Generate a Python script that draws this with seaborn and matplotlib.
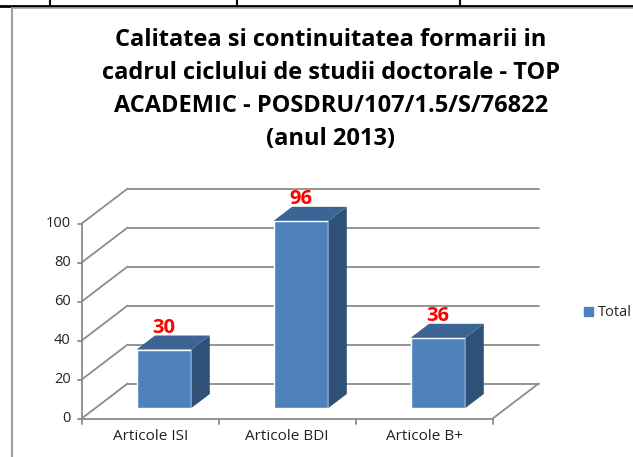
import matplotlib
matplotlib.use("Agg")
import matplotlib.pyplot as plt
import seaborn as sns
import pandas as pd
from matplotlib.patches import Polygon
from matplotlib.lines import Line2D

# data
categories = ["Articole ISI", "Articole BDI", "Articole B+"]
values = [30, 96, 36]
yticks = [0, 20, 40, 60, 80, 100]
series_name = "Total"
title_lines = ["Calitatea si continuitatea formarii in",
               "cadrul ciclului de studii doctorale - TOP",
               "ACADEMIC - POSDRU/107/1.5/S/76822",
               "(anul 2013)"]

df = pd.DataFrame({"cat": categories, "val": values})

sns.set_theme(style="white")
plt.rcParams["font.family"] = ["Open Sans", "DejaVu Sans"]

W, H = 633, 457
fig = plt.figure(figsize=(W / 100, H / 100), dpi=100)

# pixel box of the plot axes
px0, px1, py0, py1 = 40, 560, 175, 430
ux, uy = 137.0, 1.95          # px per category / per value unit
ox, oy = 164.0, 408.0         # pixel of data (0, 0)
ax = fig.add_axes([px0 / W, (H - py1) / H, (px1 - px0) / W, (py1 - py0) / H])

# depth vector of the 3D box (data units)
DX, DY = 46 / ux, 35 / uy
f_front, f_back = 0.3, 0.7
grid_c = "#8c8c8c"
lw = 1.3

x_left, x_right = -0.5, len(categories) - 0.5
fx, fy = -f_front * DX, -f_front * DY      # front plane offset
bx, by = f_back * DX, f_back * DY          # back plane offset

# back wall gridlines + left wall diagonals
for v in yticks:
    ax.plot([x_left + bx, x_right + bx], [v + by, v + by], color=grid_c, lw=lw, zorder=1)
    ax.plot([x_left + fx, x_left + bx], [v + fy, v + by], color=grid_c, lw=lw, zorder=1)
    ax.plot([x_left + fx - 0.03, x_left + fx], [v + fy, v + fy], color=grid_c, lw=lw, zorder=1)
    ax.text(x_left + fx - 0.08, v + fy, str(v), ha="right", va="center",
            fontsize=10.5, color="#222222")

# front axis and floor
ax.plot([x_left + fx, x_left + fx], [fy, yticks[-1] + fy], color=grid_c, lw=lw, zorder=1)
ax.plot([x_left + fx, x_right + fx], [fy, fy], color=grid_c, lw=lw, zorder=1)
ax.plot([x_right + fx, x_right + bx], [fy, by], color=grid_c, lw=lw, zorder=1)
for i in range(len(categories) + 1):
    xt = x_left + i + fx
    ax.plot([xt, xt], [fy, fy - 3], color=grid_c, lw=lw, zorder=1)
for i, c in enumerate(categories):
    ax.text(i + fx, fy - 5.5, c, ha="center", va="top", fontsize=11, color="#222222")

# bars (front faces)
front_c, top_c, side_c = "#4F81BD", "#3C6494", "#2F5077"
sns.barplot(data=df, x="cat", y="val", width=0.4, color=front_c, saturation=1,
            ax=ax, zorder=3)
ax.set_xlim((px0 - ox) / ux, (px1 - ox) / ux)
ax.set_ylim((oy - py1) / uy, (oy - py0) / uy)
ax.axis("off")

ddx, ddy = (f_back - f_front) * DX, (f_back - f_front) * DY
for p, v in zip(ax.patches, values):
    x0 = p.get_x()
    x1 = x0 + p.get_width()
    h = p.get_height()
    ax.add_patch(Polygon([(x1, 0), (x1 + ddx, ddy), (x1 + ddx, h + ddy), (x1, h)],
                         closed=True, facecolor=side_c, edgecolor="none", zorder=3))
    ax.add_patch(Polygon([(x0, h), (x1, h), (x1 + ddx, h + ddy), (x0 + ddx, h + ddy)],
                         closed=True, facecolor=top_c, edgecolor="none", zorder=3))
    ax.text(x0 + p.get_width() / 2, h + 11, str(v), ha="center", va="center",
            fontsize=14.5, fontweight="bold", color="red", zorder=4)

# legend
handle = [plt.Rectangle((0, 0), 1, 1, color=front_c)]
fig.legend(handle, [series_name], loc="center left", bbox_to_anchor=(584 / W, 1 - 313 / H),
           frameon=False, fontsize=10.5, handlelength=0.65, handleheight=0.65,
           handletextpad=0.3, borderaxespad=0, borderpad=0)

# title
for k, line in enumerate(title_lines):
    fig.text(331 / W, 1 - (46 + 33 * k) / H, line, ha="center", va="baseline",
             fontsize=17, fontweight="bold", color="black")

# chart frame and table lines
fig.add_artist(Line2D([0, 1], [1 - 5.5 / H, 1 - 5.5 / H], color="black", lw=2))
for xv in [50, 237, 460]:
    fig.add_artist(Line2D([xv / W, xv / W], [1 - 5.5 / H, 1], color="black", lw=1.5))
fig.add_artist(Line2D([12 / W, 1], [1 - 7.5 / H, 1 - 7.5 / H], color="#a0a0a0", lw=1.2))
fig.add_artist(Line2D([12 / W, 12 / W], [0, 1 - 7.5 / H], color="#a0a0a0", lw=1.5))

fig.savefig("out.png", dpi=100)
